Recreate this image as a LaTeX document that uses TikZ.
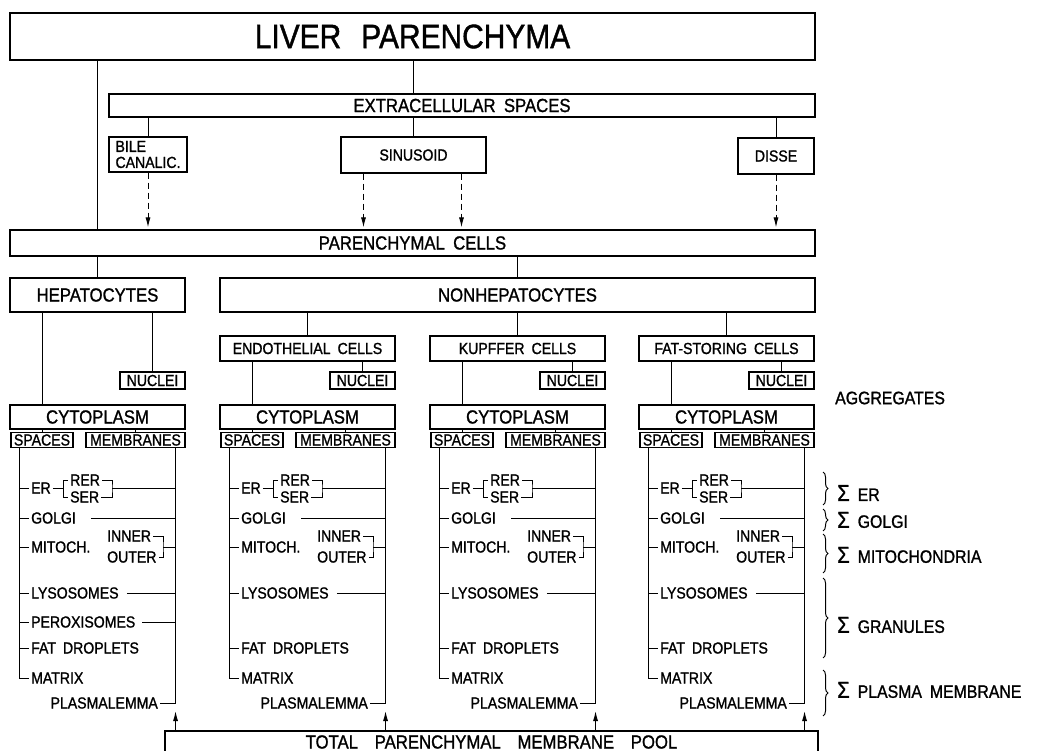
\documentclass[tikz,border=0pt]{standalone}
\usepackage{fontspec}
\setmainfont{Liberation Sans}[WordSpace=1.8, FakeStretch=0.88, FakeBold=1.2]
\usetikzlibrary{positioning,arrows.meta,decorations.pathreplacing}
\newcommand{\sumsign}{{\fontsize{23}{23}\selectfont Σ}\hspace{8pt}}

\begin{document}
\begin{tikzpicture}[
	x=1pt, y=-1pt,
	box/.style={draw, line width=1.1pt, inner sep=0pt, align=center},
	big/.style={font=\fontsize{19}{19}\selectfont},
	small/.style={font=\fontsize{16}{16}\selectfont},
	item/.style={inner sep=2pt, anchor=west, font=\fontsize{16}{16}\selectfont},
	link/.style={line width=1pt},
	flow/.style={line width=1pt, dash pattern=on 6pt off 4pt, shorten >=2pt, -{Latex[length=10pt,width=5pt]}},
	rise/.style={line width=1pt, -{Latex[length=10pt,width=5pt]}},
	sumlabel/.style={anchor=west, inner sep=1pt, font=\fontsize{18}{18}\selectfont},
	sumbrace/.style={decorate, decoration={brace, amplitude=5pt}, line width=1pt}
	]
	
	\useasboundingbox (0,0) rectangle (1047,751);
	\fill[white] (0,0) rectangle (1047,751);
	\clip (0,0) rectangle (1047,751);
	
	\node[box, minimum width=805pt, minimum height=47pt, font=\fontsize{34}{34}\selectfont] (liver) at (412.5,36.5) {LIVER\hspace{20pt}PARENCHYMA};
	\node[box, big, minimum width=706pt, minimum height=23pt] (extra) at (462,105.5) {EXTRACELLULAR SPACES};
	\node[box, align=left, font=\fontsize{16}{16}\selectfont, minimum width=78pt, minimum height=35pt] (bile) at (148,154.5) {BILE\\CANALIC.};
	\node[box, small, minimum width=145pt, minimum height=36pt] (sinus) at (413.5,155) {SINUSOID};
	\node[box, small, minimum width=76pt, minimum height=36pt] (disse) at (776,156) {DISSE};
	\node[box, big, minimum width=805pt, minimum height=26pt] (paren) at (412.5,243) {PARENCHYMAL CELLS};
	\node[box, big, minimum width=175pt, minimum height=34pt] (hepa) at (97.5,295) {HEPATOCYTES};
	\node[box, big, minimum width=595pt, minimum height=34pt] (nonhep) at (517.5,295) {NONHEPATOCYTES};
	\node[box, small, minimum width=175pt, minimum height=25pt] (cellendo) at (307.5,348.5) {ENDOTHELIAL CELLS};
	\node[box, small, minimum width=175pt, minimum height=25pt] (cellkup) at (517.5,348.5) {KUPFFER CELLS};
	\node[box, small, minimum width=175pt, minimum height=25pt] (cellfat) at (726.5,348.5) {FAT-STORING CELLS};
	\node[box, big, minimum width=653pt, minimum height=22pt] (pool) at (491.5,742) {TOTAL~~PARENCHYMAL~~MEMBRANE~~POOL};
	
	\draw[link] (liver.south -| hepa) -- (paren.north -| hepa);
	\draw[link] (liver.south -| sinus) -- (extra.north -| sinus);
	\foreach \b in {bile,sinus,disse}
		\draw[link] (\b.north) -- (\b.north |- extra.south);
	\draw[flow] (bile.south) -- (bile.south |- paren.north);
	\draw[flow] ([xshift=-50pt]sinus.south) -- ([xshift=-50pt]sinus.south |- paren.north);
	\draw[flow] ([xshift=48pt]sinus.south) -- ([xshift=48pt]sinus.south |- paren.north);
	\draw[flow] (disse.south) -- (disse.south |- paren.north);
	\draw[link] (paren.south -| hepa) -- (hepa.north);
	\draw[link] (paren.south -| nonhep) -- (nonhep.north);
	\foreach \c in {cellendo,cellkup,cellfat}
		\draw[link] (\c.north) -- (\c.north |- nonhep.south);
	
	\foreach \L/\n/\p in {10/hep/hepa, 220/endo/cellendo, 430/kup/cellkup, 639/fat/cellfat}{
		\node[box, small, minimum width=65pt, minimum height=17pt] (nu\n) at (\L+142.5,380.5) {NUCLEI};
		\node[box, big, minimum width=175pt, minimum height=24pt] (cy\n) at (\L+87.5,417) {CYTOPLASM};
		\node[box, small, minimum width=62pt, minimum height=15pt] (sp\n) at (\L+32,440) {SPACES};
		\node[box, small, minimum width=99pt, minimum height=15pt] (mb\n) at (\L+125.5,440) {MEMBRANES};
		\draw[link] (nu\n.north) -- (nu\n.north |- \p.south);
		\draw[link] (cy\n.north -| sp\n) -- (sp\n |- \p.south);
		\draw[link] (sp\n.north) -- (sp\n.north |- cy\n.south);
		\draw[link] (mb\n.north) -- (mb\n.north |- cy\n.south);
		\coordinate (s\n) at ([xshift=9pt]sp\n.south west);
		\coordinate (m\n) at ([xshift=-10pt]mb\n.south east);
		
		\node[item] (er\n) at (\L+19,488) {ER};
		\node[item] (rer\n) at (\L+58,480) {RER};
		\node[item] (ser\n) at (\L+58,497) {SER};
		\node[item] (go\n) at (\L+19,518) {GOLGI};
		\node[item] (mi\n) at (\L+19,547) {MITOCH.};
		\node[item] (in\n) at (\L+95,536) {INNER};
		\node[item] (ou\n) at (\L+95,557) {OUTER};
		\node[item] (ly\n) at (\L+19,593) {LYSOSOMES};
		\node[item] (fd\n) at (\L+19,648) {FAT DROPLETS};
		\node[item] (mx\n) at (\L+19,678) {MATRIX};
		\node[item, anchor=east] (pl\n) at (\L+150,703) {PLASMALEMMA};
		\coordinate (rb\n) at (\L+102,488);
		\coordinate (ib\n) at (\L+153,547);
		\coordinate (pe\n) at (m\n |- pl\n.east);
		
		\foreach \i in {er,go,mi,ly,fd}
			\draw[link] (\i\n.west -| s\n) -- (\i\n.west);
		\draw[link] (s\n) |- (mx\n.west);
		\draw[link] (m\n) |- (pl\n.east);
		\draw[link] (er\n.east) -- ([xshift=-5pt]rer\n.west |- er\n.east);
		\draw[link] (rer\n.west) -- ++(-5pt,0) |- (ser\n.west);
		\draw[link] (rer\n.east) -| (rb\n) |- (ser\n.east);
		\draw[link] (rb\n) -- (rb\n -| m\n);
		\draw[link] (in\n.east) -| (ib\n) |- (ou\n.east);
		\draw[link] (ib\n) -- (ib\n -| m\n);
		\draw[link] ([xshift=13pt]go\n.east) -- (go\n.east -| m\n);
		\draw[link] ([xshift=6pt]ly\n.east) -- (ly\n.east -| m\n);
		\draw[rise] (pool.north -| m\n) -- ([yshift=-8pt]pe\n);
	}
	
	\node[item] (pxhep) at (29,622) {PEROXISOMES};
	\draw[link] (pxhep.west -| shep) -- (pxhep.west);
	\draw[link] ([xshift=5pt]pxhep.east) -- (pxhep.east -| mhep);
	
	\node[sumlabel] (aggr) at (834,398) {AGGREGATES};
	\node[sumlabel] (sumer) at (836,493) {\sumsign ER};
	\node[sumlabel] (sumgolgi) at (836,520) {\sumsign GOLGI};
	\node[sumlabel] (summito) at (836,555) {\sumsign MITOCHONDRIA};
	\node[sumlabel] (sumgran) at (836,625) {\sumsign GRANULES};
	\node[sumlabel] (sumplasma) at (836,690) {\sumsign PLASMA MEMBRANE};
	
	\draw[sumbrace] (823,472) -- (823,505);
	\draw[sumbrace] (823,509) -- (823,531);
	\draw[sumbrace] (823,534) -- (823,573);
	\draw[sumbrace] (823,578) -- (823,658);
	\draw[sumbrace] (823,670) -- (823,716);
	
\end{tikzpicture}
\end{document}
